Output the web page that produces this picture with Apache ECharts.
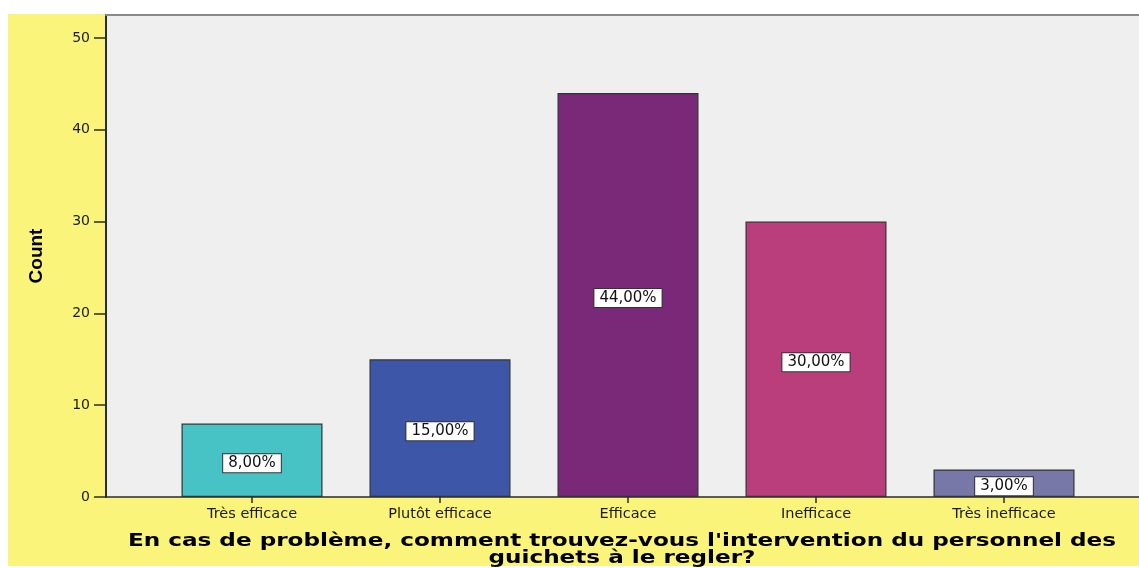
<!DOCTYPE html>
<html>
<head>
<meta charset="utf-8">
<script src="https://cdn.jsdelivr.net/npm/echarts@6/dist/echarts.min.js"></script>
<style>
  html, body { margin: 0; padding: 0; background: #ffffff; }
  #chart { width: 1139px; height: 568px; }
</style>
</head>
<body>
<div id="chart"></div>
<script>
// Réponses à la question sur l'intervention du personnel des guichets
const categories = ['Très efficace', 'Plutôt efficace', 'Efficace', 'Inefficace', 'Très inefficace'];
const counts = [8, 15, 44, 30, 3];
const barColors = ['#47c2c5', '#3d56a8', '#7a2979', '#b93e7b', '#7878a8'];
const yTicks = [0, 10, 20, 30, 40, 50];
const yMax = 52.5;
const xTitle = "En cas de problème, comment trouvez-vous l'intervention du personnel des\nguichets à le regler?";
const yTitle = 'Count';

const total = counts.reduce((a, b) => a + b, 0);
const pct = v => (v / total * 100).toFixed(2).replace('.', ',') + '%';

const FONT = 'DejaVu Sans';

const chart = echarts.init(document.getElementById('chart'), null, { renderer: 'canvas' });

const option = {
  backgroundColor: '#ffffff',
  animation: false,
  graphic: [
    {
      type: 'rect', z: -10, silent: true,
      shape: { x: 8, y: 14, width: 1131, height: 552 },
      style: { fill: '#faf57a' }
    },
    {
      // axis title, drawn wide like the rest of the lettering
      type: 'text', z: 10, silent: true,
      x: 622, y: 533, scaleX: 1.36,
      style: {
        text: xTitle,
        font: 'bold 17px "DejaVu Sans"',
        fill: '#000000',
        textAlign: 'center',
        textVerticalAlign: 'top',
        lineHeight: 17
      }
    }
  ],
  grid: [
    { left: 106, top: 15, right: 0, height: 482, show: true, backgroundColor: '#efefef', borderWidth: 0, containLabel: false },
    { left: 158, top: 15, width: 940, height: 482, containLabel: false }
  ],
  xAxis: [
    {
      // full-width baseline of the plot frame
      type: 'value', gridIndex: 0, min: 0, max: 1, position: 'bottom',
      axisLine: { show: true, onZero: false, lineStyle: { color: '#2b2b2b', width: 1.5 } },
      axisTick: { show: false }, axisLabel: { show: false }, splitLine: { show: false }
    },
    {
      // top edge of the plot frame
      type: 'value', gridIndex: 0, min: 0, max: 1, position: 'top',
      axisLine: { show: true, onZero: false, lineStyle: { color: '#8a8a8a', width: 2 } },
      axisTick: { show: false }, axisLabel: { show: false }, splitLine: { show: false }
    },
    {
      type: 'category', gridIndex: 1, data: categories, position: 'bottom',
      axisLine: { show: false },
      axisTick: { show: true, alignWithLabel: true, length: 6, lineStyle: { color: '#2b2b2b', width: 1.5 } },
      axisLabel: { color: '#1a1a1a', fontFamily: FONT, fontSize: 14.5, margin: 10 },
      splitLine: { show: false }
    }
  ],
  yAxis: [
    {
      type: 'value', gridIndex: 0, min: 0, max: yMax, interval: 10,
      name: yTitle, nameLocation: 'middle', nameRotate: 90, nameGap: 60,
      nameTextStyle: { fontFamily: 'Liberation Sans Narrow, Liberation Sans', fontWeight: 'bold', fontSize: 19, color: '#000' },
      axisLine: { show: true, lineStyle: { color: '#2b2b2b', width: 2 } },
      axisTick: { show: true, length: 12, customValues: yTicks, lineStyle: { color: '#2b2b2b', width: 1.5 } },
      axisLabel: { show: true, customValues: yTicks, color: '#1a1a1a', fontFamily: FONT, fontSize: 14, margin: 16 },
      splitLine: { show: false }
    },
    {
      type: 'value', gridIndex: 1, min: 0, max: yMax, show: false,
      splitLine: { show: false }
    }
  ],
  series: [
    {
      type: 'bar', xAxisIndex: 2, yAxisIndex: 1,
      barWidth: 141,
      data: counts.map((v, i) => ({
        value: v,
        itemStyle: { color: barColors[i] }
      })),
      itemStyle: { borderColor: '#333333', borderWidth: 1.2 },
      label: {
        show: true, position: 'inside', offset: [0, 3],
        formatter: p => pct(p.value),
        color: '#111111', fontFamily: FONT, fontSize: 15,
        backgroundColor: '#ffffff', borderColor: '#333333', borderWidth: 1,
        padding: [2, 5, 1, 5]
      }
    }
  ]
};

chart.setOption(option);
</script>
</body>
</html>
